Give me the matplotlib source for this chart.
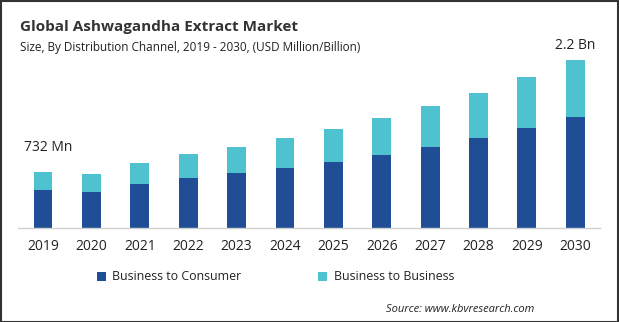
import matplotlib
matplotlib.use("Agg")
import matplotlib.pyplot as plt
from matplotlib.patches import Rectangle

# values (USD Million)
years = ["2019", "2020", "2021", "2022", "2023", "2024",
         "2025", "2026", "2027", "2028", "2029", "2030"]
b2c = [497, 471, 575, 654, 719, 784, 863, 954, 1059, 1176, 1307, 1451]
b2b = [235, 235, 275, 314, 340, 392, 431, 484, 536, 588, 667, 749]
first_label = "732 Mn"
last_label = "2.2 Bn"

c_b2c = "#1F4E96"
c_b2b = "#4EC2CE"

plt.rcParams['font.family'] = ['Open Sans', 'DejaVu Sans']

W, H = 619, 322
fig = plt.figure(figsize=(W / 100, H / 100), dpi=100)

# axes placed in pixel terms: x 18..600, baseline at y=228, top at y=40
ax = fig.add_axes([18 / W, (H - 228) / H, (600 - 18) / W, (228 - 40) / H])
x = list(range(len(years)))
ax.bar(x, b2c, width=0.39, color=c_b2c, label="Business to Consumer")
ax.bar(x, b2b, width=0.39, bottom=b2c, color=c_b2b, label="Business to Business")

ax.set_xlim(-0.517, 11.51)
ax.set_ylim(0, 188 * 13.07)
for s in ["top", "right", "left"]:
    ax.spines[s].set_visible(False)
ax.spines["bottom"].set_color("#d0d0d0")
ax.spines["bottom"].set_linewidth(1.0)
ax.set_yticks([])
ax.set_xticks(x)
ax.set_xticklabels(years, fontsize=10, color="#222222")
ax.tick_params(axis="x", length=0, pad=8)

tot0 = b2c[0] + b2b[0]
tot1 = b2c[-1] + b2b[-1]
ax.annotate(first_label, (0, tot0), xytext=(4, 12), textcoords="offset points",
            ha="center", va="bottom", fontsize=10, color="#222222")
ax.annotate(last_label, (11, tot1), xytext=(0, 5), textcoords="offset points",
            ha="center", va="bottom", fontsize=10, color="#222222")

fig.text(20 / W, 1 - 27 / H, "Global Ashwagandha Extract Market",
         fontsize=11, fontweight="bold", color="#333333", va="center")
fig.text(20 / W, 1 - 47 / H,
         "Size, By Distribution Channel, 2019 - 2030, (USD Million/Billion)",
         fontsize=8.5, color="#222222", va="center")

leg = fig.legend(loc="center left", bbox_to_anchor=(92 / W, 1 - 277 / H), ncol=2,
                 frameon=False, fontsize=8.9, handlelength=0.75, handleheight=0.75,
                 handletextpad=0.5, columnspacing=6.2, borderaxespad=0)
for t in leg.get_texts():
    t.set_color("#222222")

fig.text(534 / W, 1 - 309 / H, "Source: www.kbvresearch.com", fontsize=8,
         style="italic", color="#222222", ha="right", va="center")

# frame around the whole picture
fig.patches.append(Rectangle((0.5 / W, 0.5 / H), 1 - 1.5 / W, 1 - 1.5 / H,
                             transform=fig.transFigure, fill=False,
                             edgecolor="#333333", linewidth=1.5))

fig.savefig("out.png", dpi=100)
